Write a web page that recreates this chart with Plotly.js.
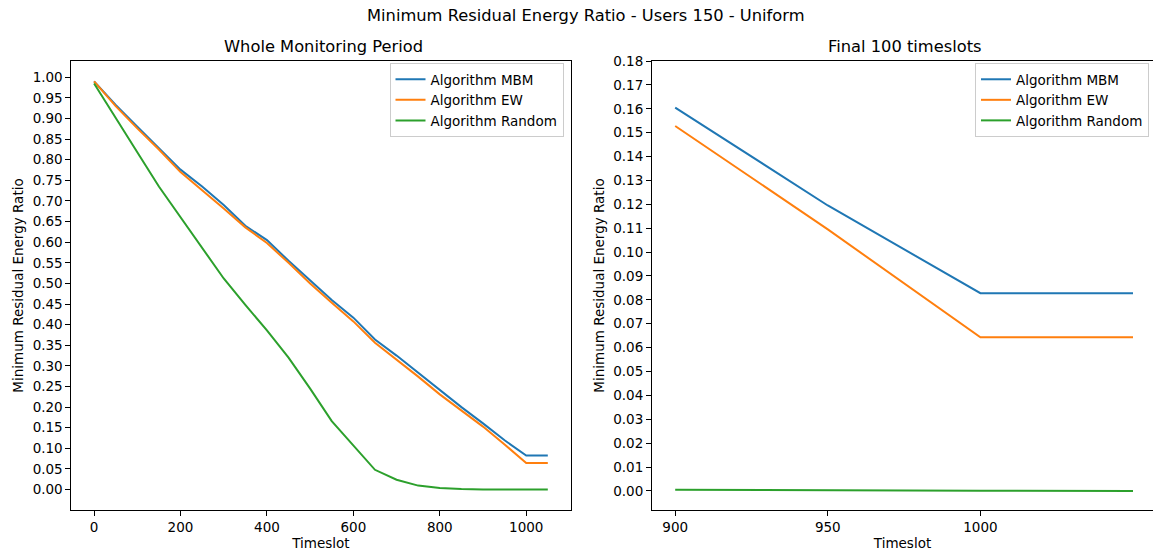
<!DOCTYPE html>
<html>
<head>
<meta charset="utf-8">
<script src="https://cdn.plot.ly/plotly-3.0.1.min.js"></script>
<style>html,body{margin:0;padding:0;background:#fff;}#chart{width:1153px;height:553px;}</style>
</head>
<body>
<div id="chart"></div>
<script>
// ---- data ----
const timeslots = [0,50,100,150,200,250,300,350,400,450,500,550,600,650,700,750,800,850,900,950,1000,1050];
const mbm    = [0.990,0.933,0.880,0.828,0.776,0.735,0.690,0.640,0.605,0.555,0.507,0.460,0.417,0.364,0.325,0.283,0.240,0.200,0.1605,0.1195,0.0828,0.0828];
const ew     = [0.990,0.930,0.876,0.825,0.770,0.727,0.682,0.636,0.598,0.550,0.500,0.453,0.408,0.356,0.316,0.274,0.231,0.191,0.1528,0.1095,0.0643,0.0643];
const randomAlg = [0.985,0.900,0.818,0.735,0.660,0.586,0.512,0.448,0.386,0.320,0.245,0.166,0.108,0.048,0.024,0.0097,0.004,0.0012,0.0005,0.0002,0.0001,0.0];
const seriesNames = ['Algorithm MBM','Algorithm EW','Algorithm Random'];
const finalStart = 18; // index of timeslot 900
const leftYTicks = [0,0.05,0.10,0.15,0.20,0.25,0.30,0.35,0.40,0.45,0.50,0.55,0.60,0.65,0.70,0.75,0.80,0.85,0.90,0.95,1.00];
const rightYTicks = [0,0.01,0.02,0.03,0.04,0.05,0.06,0.07,0.08,0.09,0.10,0.11,0.12,0.13,0.14,0.15,0.16,0.17,0.18];
const leftXTicks = [0,200,400,600,800,1000];
const rightXTicks = [900,950,1000];

const colors = ['#1f77b4','#ff7f0e','#2ca02c'];
const allSeries = [mbm, ew, randomAlg];
const W = 1153, H = 553;
const FONT = 'DejaVu Sans';
const traces = [];
allSeries.forEach((s,i)=>{
  traces.push({x: timeslots, y: s, name: seriesNames[i], type:'scatter', mode:'lines',
    line:{color:colors[i], width:2}, xaxis:'x', yaxis:'y', legend:'legend'});
});
allSeries.forEach((s,i)=>{
  traces.push({x: timeslots.slice(finalStart), y: s.slice(finalStart), name: seriesNames[i], type:'scatter', mode:'lines',
    line:{color:colors[i], width:2}, xaxis:'x2', yaxis:'y2', legend:'legend2'});
});

const px = v => v / W;
const py = v => (H - v) / H;
const TS = 13.5;
const axBase = {showgrid:false, zeroline:false, showline:true, linecolor:'#000', linewidth:1,
  ticks:'outside', ticklen:5, tickwidth:1, tickcolor:'#000',
  tickfont:{family:FONT, size:TS, color:'#000'}, automargin:false};
const titleFont = {family:FONT, size:TS, color:'#000'};
const legFont = {family:FONT, size:TS, color:'#000'};

const layout = {
  width: W, height: H,
  margin:{l:0,r:0,t:0,b:0},
  paper_bgcolor:'#fff', plot_bgcolor:'#fff',
  showlegend:true,
  font:{family:FONT, color:'#000'},
  xaxis: Object.assign({}, axBase, {domain:[px(71.4), px(570.5)], range:[-52.5,1102.5], mirror:true,
    tickvals:leftXTicks, ticktext:leftXTicks.map(String),
    title:{text:'Timeslot', font:titleFont, standoff:4}, anchor:'y'}),
  yaxis: Object.assign({}, axBase, {domain:[py(510), py(61)], range:[-0.0495,1.0395], mirror:true,
    tickvals:leftYTicks, ticktext:leftYTicks.map(v=>v.toFixed(2)),
    title:{text:'Minimum Residual Energy Ratio', font:titleFont, standoff:5}, anchor:'x'}),
  xaxis2: Object.assign({}, axBase, {domain:[px(652), 1], range:[892.4, 892.4 + (1153-652)/3.052], mirror:true,
    tickvals:rightXTicks, ticktext:rightXTicks.map(String),
    title:{text:'Timeslot', font:titleFont, standoff:4}, anchor:'y2'}),
  yaxis2: Object.assign({}, axBase, {domain:[py(510), py(61)], range:[-0.008,0.18], mirror:false,
    tickvals:rightYTicks, ticktext:rightYTicks.map(v=>v.toFixed(2)),
    title:{text:'Minimum Residual Energy Ratio', font:titleFont, standoff:5}, anchor:'x2'}),
  legend:{x:px(563.5), xanchor:'right', y:py(63), yanchor:'top', bgcolor:'rgba(255,255,255,0.8)',
    bordercolor:'#cccccc', borderwidth:1, font:legFont, tracegroupgap:0},
  legend2:{x:px(1149), xanchor:'right', y:py(63), yanchor:'top', bgcolor:'rgba(255,255,255,0.8)',
    bordercolor:'#cccccc', borderwidth:1, font:legFont, tracegroupgap:0},
  annotations:[
    {text:'Minimum Residual Energy Ratio - Users 150 - Uniform', xref:'paper', yref:'paper', x:px(586), y:py(16), xanchor:'center', yanchor:'middle', showarrow:false, font:{family:FONT, size:16.3, color:'#000'}},
    {text:'Whole Monitoring Period', xref:'paper', yref:'paper', x:px(323.5), y:py(46.5), xanchor:'center', yanchor:'middle', showarrow:false, font:{family:FONT, size:16.3, color:'#000'}},
    {text:'Final 100 timeslots', xref:'paper', yref:'paper', x:px(904.5), y:py(46.5), xanchor:'center', yanchor:'middle', showarrow:false, font:{family:FONT, size:16.3, color:'#000'}}
  ]
};
Plotly.newPlot('chart', traces, layout, {staticPlot:true, displayModeBar:false});
</script>
</body>
</html>
